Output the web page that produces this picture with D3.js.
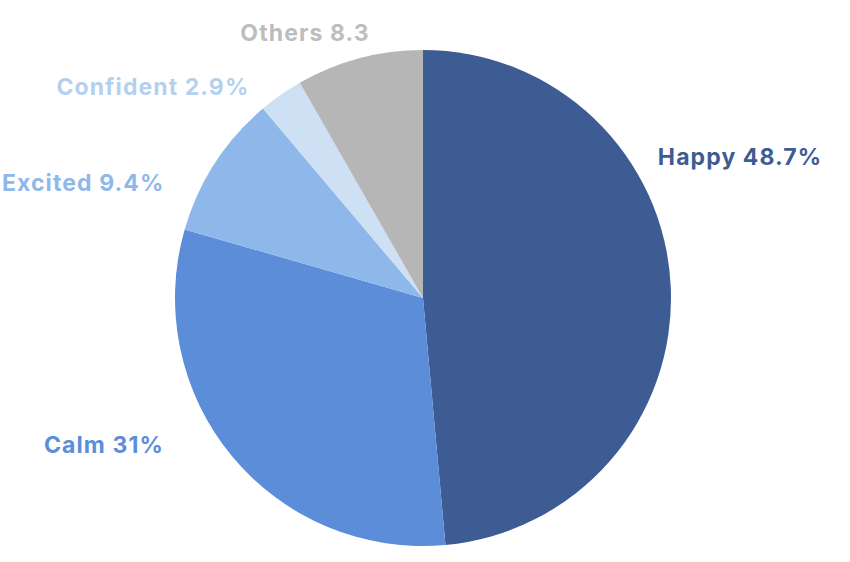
<!DOCTYPE html>
<html>
<head>
<meta charset="utf-8">
<script src="https://cdn.jsdelivr.net/npm/d3@7"></script>
<style>
  body { margin: 0; background: #fff; }
  text { font-family: Inter, "Open Sans", "DejaVu Sans", sans-serif; font-weight: 700; }
</style>
</head>
<body>
<div id="pie"></div>
<script>
// data
const categories = ["Happy", "Calm", "Excited", "Confident", "Others"];
const values = [48.7, 31, 9.4, 2.9, 8.3];
const labels = ["Happy 48.7%", "Calm 31%", "Excited 9.4%", "Confident 2.9%", "Others 8.3"];

// look
const sliceColors = ["#3d5c94", "#5b8dd9", "#8fb8ea", "#cde0f4", "#b6b6b6"];
const labelColors = ["#3d5c94", "#5b8dd9", "#8fb8ea", "#b3d1ef", "#bdbdbd"];
// label placement: angle (deg, clockwise from top), radius, anchor
const labelAngle = [59, 240.4, 294, 320.5, 336];
const labelRadius = [274, 298, 283, 273, 290];
const labelAnchor = ["start", "end", "end", "end", "middle"];

const width = 850, height = 562;
const cx = 423, cy = 298, radius = 248;

const svg = d3.select("#pie").append("svg")
    .attr("width", width)
    .attr("height", height);

const g = svg.append("g")
    .attr("transform", `translate(${cx},${cy})`);

const pie = d3.pie().sort(null).value(d => d.value);
const arc = d3.arc().innerRadius(0).outerRadius(radius);

const data = categories.map((c, i) => ({ name: c, value: values[i], label: labels[i], i: i }));

g.selectAll("path")
  .data(pie(data))
  .enter().append("path")
    .attr("d", arc)
    .attr("fill", d => sliceColors[d.data.i]);

const txt = g.selectAll("text")
  .data(data)
  .enter().append("text")
    .attr("x", d => labelRadius[d.i] * Math.sin(labelAngle[d.i] * Math.PI / 180))
    .attr("y", d => -labelRadius[d.i] * Math.cos(labelAngle[d.i] * Math.PI / 180))
    .attr("dy", "0.35em")
    .attr("text-anchor", d => labelAnchor[d.i])
    .attr("fill", d => labelColors[d.i])
    .style("font-size", "23px")
    .style("letter-spacing", "1.1px")
    .text(d => d.label);
</script>
</body>
</html>
